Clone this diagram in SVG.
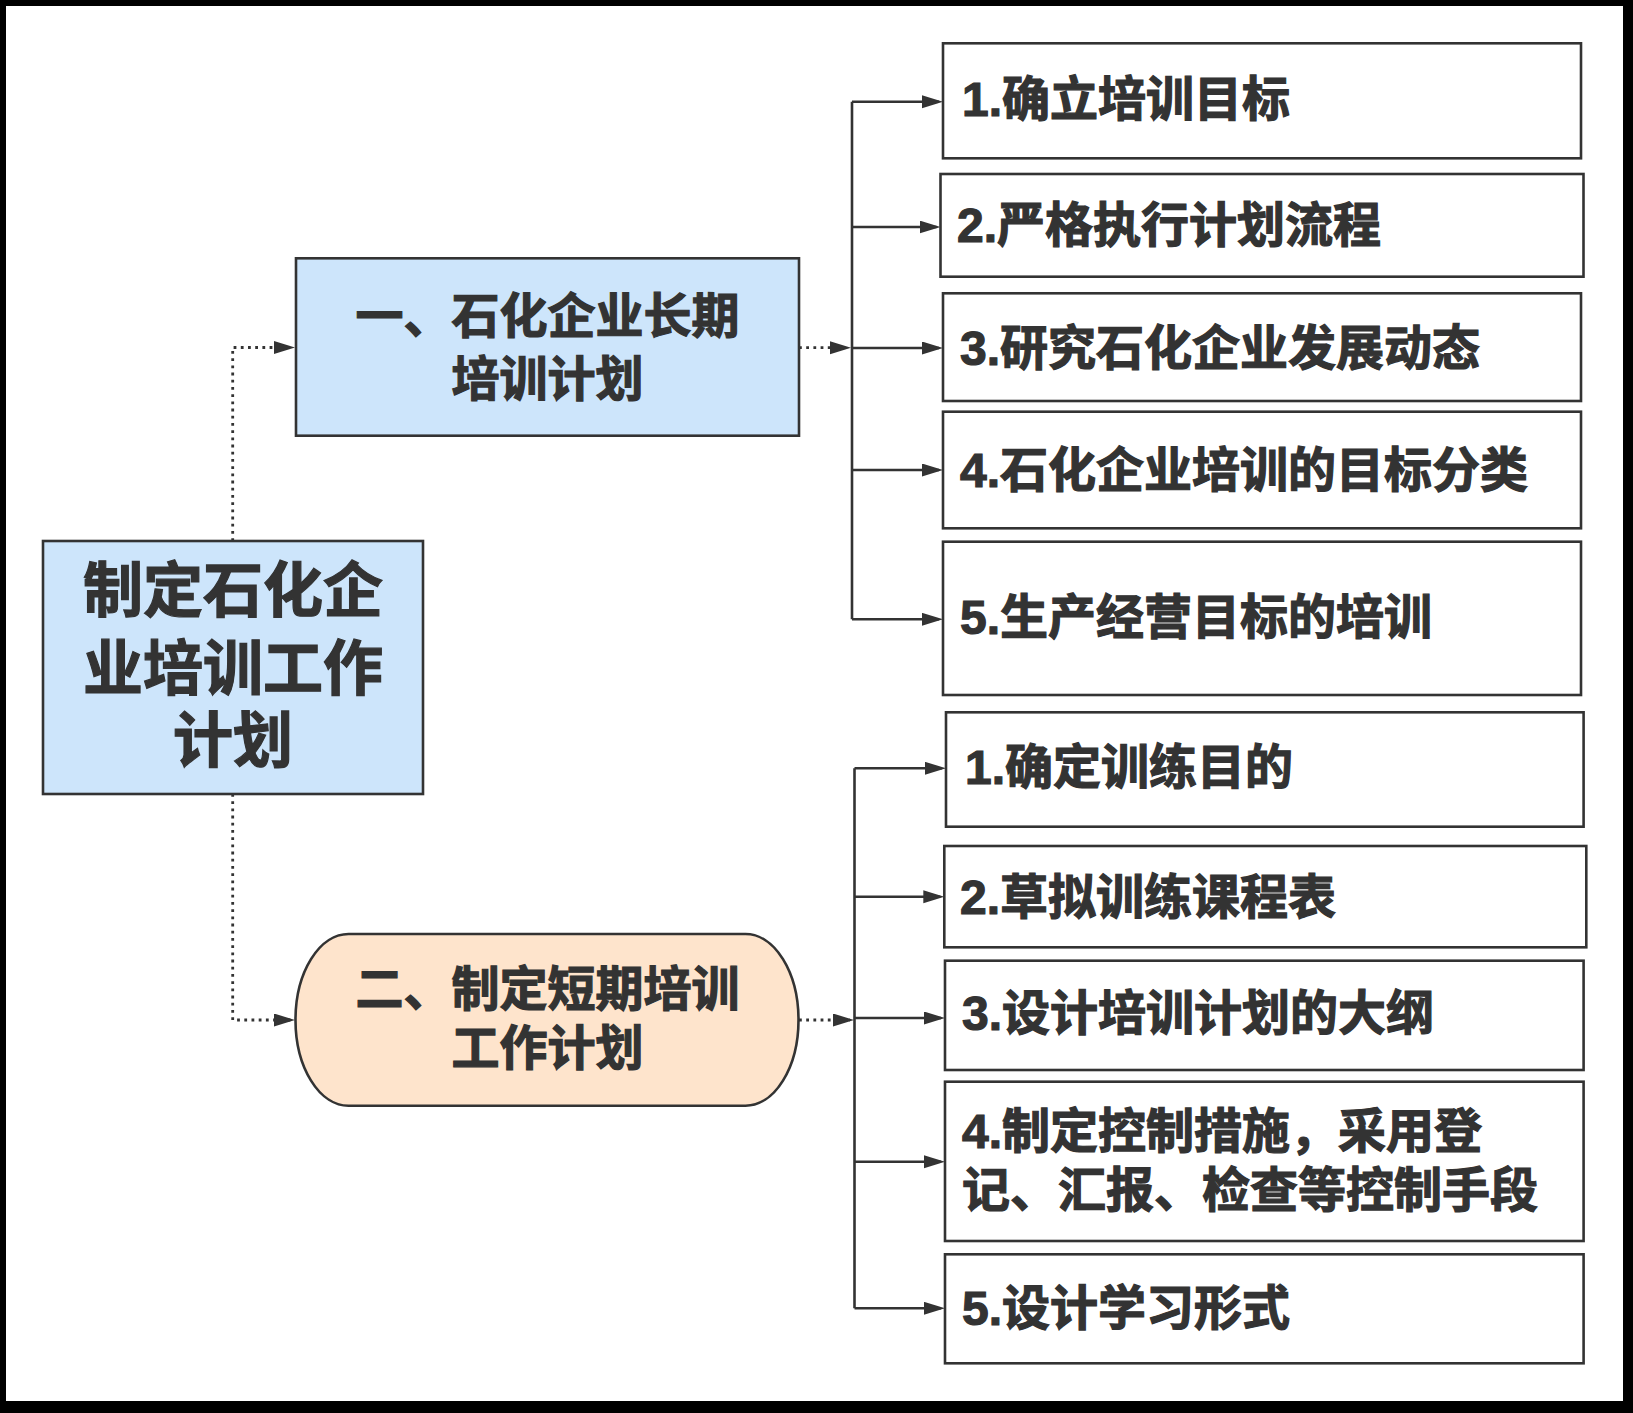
<svg xmlns="http://www.w3.org/2000/svg" width="1633" height="1413" viewBox="0 0 1633 1413">
<defs>
<style>
.box{fill:#ffffff;stroke:#333333;stroke-width:2.6}
.blue{fill:#cde5fb;stroke:#333333;stroke-width:2.6}
.peach{fill:#fee4cc;stroke:#333333;stroke-width:2.6}
.t{font-family:"Liberation Sans","Noto Sans CJK SC",sans-serif;font-weight:700;font-size:48px;fill:#333333;stroke:#333333;stroke-width:1.2;dominant-baseline:central}
.c{text-anchor:middle}
.big{font-size:60px}
.solid{fill:none;stroke:#333333;stroke-width:2.6}
.dot{fill:none;stroke:#333333;stroke-width:2.8;stroke-dasharray:2.8 4.4}
</style>
<marker id="arr" markerUnits="userSpaceOnUse" markerWidth="22" markerHeight="14" refX="17" refY="6.5" orient="auto">
<path d="M0,0 L21,6.5 L0,13 Z" fill="#333333"/>
</marker>
</defs>
<rect x="0" y="0" width="1633" height="1413" fill="#000000"/>
<rect x="6" y="6" width="1617" height="1395" fill="#ffffff"/>

<g id="connectors">
<path class="dot" d="M232.7,541 V347.5 H291" marker-end="url(#arr)"/>
<path class="dot" d="M232.7,794 V1020 H291" marker-end="url(#arr)"/>
<path class="dot" d="M799,347.7 H847" marker-end="url(#arr)"/>
<path class="dot" d="M799,1020 H850" marker-end="url(#arr)"/>
<path class="solid" d="M852,101.7 V619.3"/>
<path class="solid" d="M852,101.7 H939" marker-end="url(#arr)"/>
<path class="solid" d="M852,227 H936.5" marker-end="url(#arr)"/>
<path class="solid" d="M852,348 H939" marker-end="url(#arr)"/>
<path class="solid" d="M852,470 H939" marker-end="url(#arr)"/>
<path class="solid" d="M852,619.3 H939" marker-end="url(#arr)"/>
<path class="solid" d="M854.5,768.3 V1308.3"/>
<path class="solid" d="M854.5,768.3 H942" marker-end="url(#arr)"/>
<path class="solid" d="M854.5,896.7 H940.3" marker-end="url(#arr)"/>
<path class="solid" d="M854.5,1018 H941" marker-end="url(#arr)"/>
<path class="solid" d="M854.5,1161.7 H941" marker-end="url(#arr)"/>
<path class="solid" d="M854.5,1308.3 H941" marker-end="url(#arr)"/>
</g>

<g id="root">
<rect class="blue" x="43" y="541" width="380" height="253"/>
<text class="t big c" x="233" y="591.5">制定石化企</text>
<text class="t big c" x="233" y="669">业培训工作</text>
<text class="t big c" x="233" y="741.5">计划</text>
</g>

<g id="nodeA">
<rect class="blue" x="296" y="258.3" width="503" height="177.4"/>
<text class="t c" x="547.5" y="316">一、石化企业长期</text>
<text class="t c" x="547.5" y="379">培训计划</text>
</g>

<g id="nodeB">
<rect class="peach" x="295.5" y="934" width="503" height="171.7" rx="53" ry="85.8"/>
<text class="t c" x="547.5" y="989">二、制定短期培训</text>
<text class="t c" x="547.5" y="1048">工作计划</text>
</g>

<g id="a1">
<rect class="box" x="943" y="43.3" width="638" height="115"/>
<text class="t" x="962" y="99">1.确立培训目标</text>
</g>
<g id="a2">
<rect class="box" x="940.5" y="174" width="643" height="102.7"/>
<text class="t" x="957" y="225">2.严格执行计划流程</text>
</g>
<g id="a3">
<rect class="box" x="943" y="293.3" width="638" height="107.7"/>
<text class="t" x="960" y="348">3.研究石化企业发展动态</text>
</g>
<g id="a4">
<rect class="box" x="943" y="411.7" width="638" height="116.6"/>
<text class="t" x="960" y="470">4.石化企业培训的目标分类</text>
</g>
<g id="a5">
<rect class="box" x="943" y="541.7" width="638" height="153.3"/>
<text class="t" x="960" y="617">5.生产经营目标的培训</text>
</g>

<g id="b1">
<rect class="box" x="946" y="712.3" width="637.6" height="114.4"/>
<text class="t" x="965" y="767">1.确定训练目的</text>
</g>
<g id="b2">
<rect class="box" x="944.3" y="846" width="642" height="101.3"/>
<text class="t" x="960" y="897">2.草拟训练课程表</text>
</g>
<g id="b3">
<rect class="box" x="945" y="960.7" width="638.6" height="109.3"/>
<text class="t" x="962" y="1013">3.设计培训计划的大纲</text>
</g>
<g id="b4">
<rect class="box" x="945" y="1081.7" width="638.6" height="159.3"/>
<text class="t" x="962" y="1131.5">4.制定控制措施，采用登</text>
<text class="t" x="962" y="1190.5">记、汇报、检查等控制手段</text>
</g>
<g id="b5">
<rect class="box" x="945" y="1254.3" width="638.6" height="109"/>
<text class="t" x="962" y="1308">5.设计学习形式</text>
</g>
</svg>
